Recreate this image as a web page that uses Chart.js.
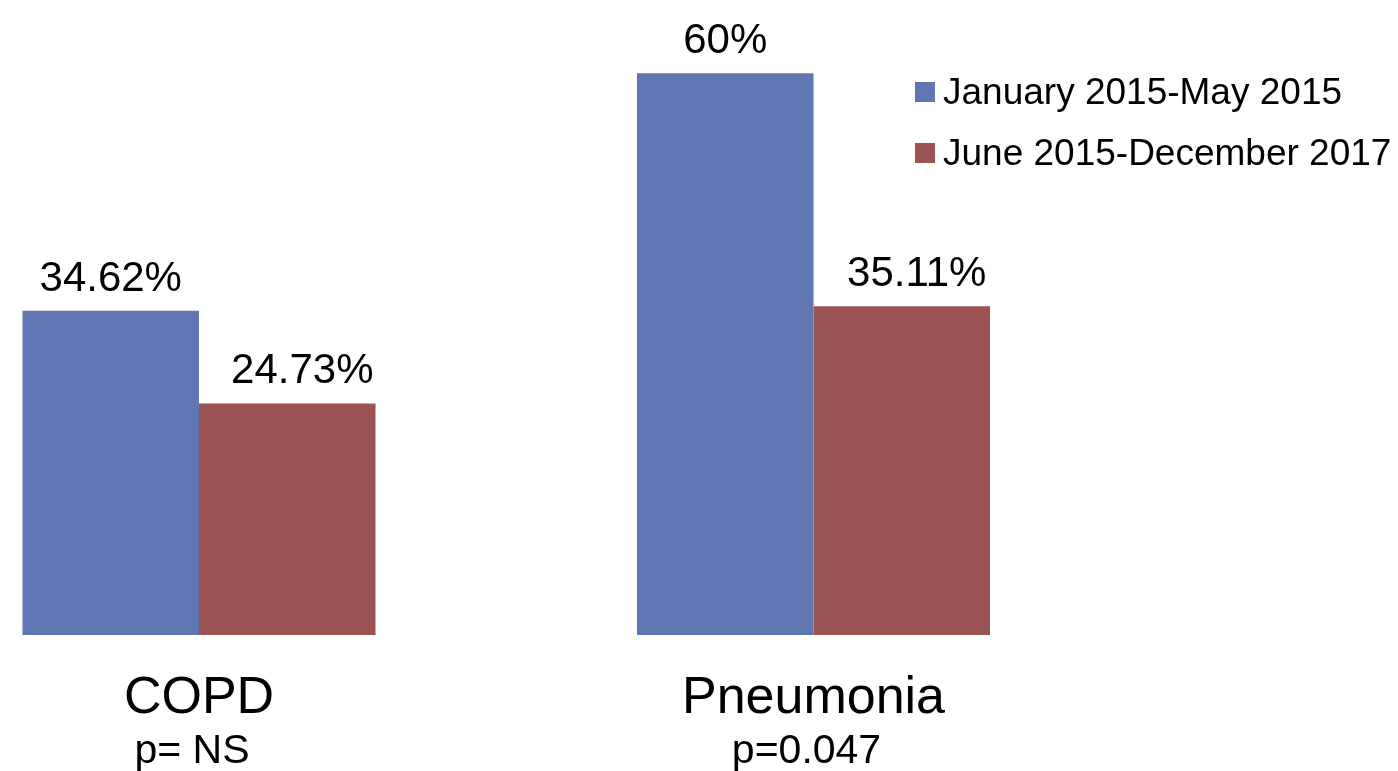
<!DOCTYPE html>
<html>
<head>
<meta charset="utf-8">
<title>COPD and Pneumonia</title>
<script src="https://cdn.jsdelivr.net/npm/chart.js@4/dist/chart.umd.min.js"></script>
<style>
  html, body { margin: 0; padding: 0; background: #ffffff; }
  #wrap { width: 1398px; height: 771px; position: relative; }
</style>
</head>
<body>
<div id="wrap"><canvas id="chart" width="1398" height="771"></canvas></div>
<script>
// Categories, their p-values, and the two period series (percent)
const categories = ['COPD', 'Pneumonia'];
const pValues = ['p= NS', 'p=0.047'];
const seriesNames = ['January 2015-May 2015', 'June 2015-December 2017'];
const earlyPeriod = [34.62, 60];
const latePeriod = [24.73, 35.11];

const FONT = '"Liberation Sans", Arial, sans-serif';
const BLUE = '#5f76b3';
const RED = '#9b5253';

const fmtPct = v => (Number.isInteger(v) ? String(v) : v.toFixed(2)) + '%';

// Value labels above each bar
const valueLabels = {
  id: 'valueLabels',
  afterDatasetsDraw(chart, args, opts) {
    const ctx = chart.ctx;
    ctx.save();
    ctx.font = '42px ' + FONT;
    ctx.fillStyle = '#000';
    ctx.textAlign = 'center';
    ctx.textBaseline = 'alphabetic';
    chart.data.datasets.forEach((ds, di) => {
      const meta = chart.getDatasetMeta(di);
      const shift = opts.shift[di] || 0;
      meta.data.forEach((bar, i) => {
        ctx.fillText(fmtPct(ds.data[i]), bar.x + shift, bar.y - 20);
      });
    });
    ctx.restore();
  }
};

// Legend in the upper right, one row per series
const sideLegend = {
  id: 'sideLegend',
  afterDraw(chart, args, opts) {
    const ctx = chart.ctx;
    ctx.save();
    ctx.font = '37px ' + FONT;
    ctx.textAlign = 'left';
    ctx.textBaseline = 'alphabetic';
    chart.data.datasets.forEach((ds, i) => {
      const y = opts.y + i * opts.rowGap;
      ctx.fillStyle = ds.backgroundColor;
      ctx.fillRect(opts.x, y, 20, 20);
      ctx.fillStyle = '#000';
      ctx.fillText(ds.label, opts.x + 28, y + 21.5);
    });
    ctx.restore();
  }
};

new Chart(document.getElementById('chart'), {
  type: 'bar',
  data: {
    labels: categories,
    datasets: [
      { label: seriesNames[0], data: earlyPeriod, backgroundColor: BLUE, clip: false },
      { label: seriesNames[1], data: latePeriod, backgroundColor: RED, clip: false }
    ]
  },
  options: {
    responsive: false,
    animation: false,
    devicePixelRatio: 1,
    layout: { padding: { left: 199, right: 584.5, top: 17, bottom: 0 } },
    datasets: { bar: { barPercentage: 1, categoryPercentage: 0.5745 } },
    scales: {
      x: {
        type: 'category',
        position: 'bottom',
        offset: false,
        weight: 0,
        grid: { display: false, drawTicks: false },
        border: { display: false },
        ticks: {
          autoSkip: false,
          maxRotation: 0,
          padding: 32,
          color: '#000',
          font: { family: FONT, size: 52 }
        },
        afterFit(scale) { scale.height = 90; }
      },
      x2: {
        type: 'category',
        position: 'bottom',
        labels: pValues,
        offset: false,
        weight: 1,
        grid: { display: false, drawTicks: false },
        border: { display: false },
        ticks: {
          autoSkip: false,
          maxRotation: 0,
          padding: 2,
          labelOffset: -7,
          color: '#000',
          font: { family: FONT, size: 41 }
        },
        afterFit(scale) { scale.height = 46; }
      },
      y: {
        display: false,
        min: 0,
        max: 66
      }
    },
    plugins: {
      legend: { display: false },
      tooltip: { enabled: false },
      valueLabels: { shift: [0, 15] },
      sideLegend: { x: 915, y: 82, rowGap: 61 }
    }
  },
  plugins: [valueLabels, sideLegend]
});
</script>
</body>
</html>
